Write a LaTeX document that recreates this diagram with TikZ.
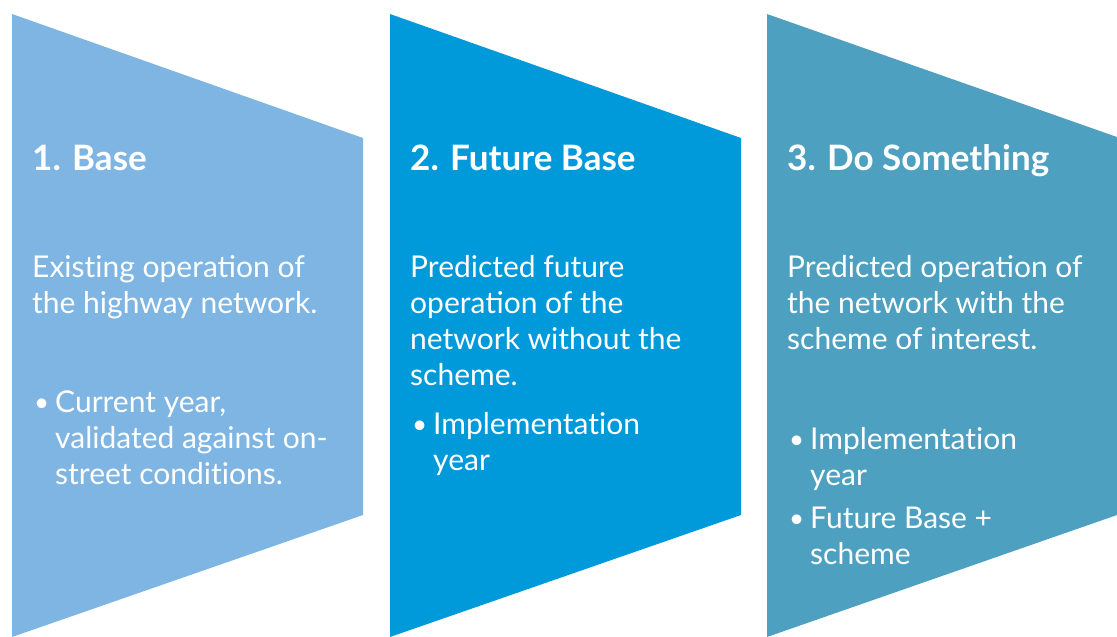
\documentclass[tikz,border=0pt]{standalone}
\usepackage{fontspec}
\setmainfont{Lato}
\definecolor{baseblue}{HTML}{7FB5E2}
\definecolor{futureblue}{HTML}{0099DA}
\definecolor{schemeblue}{HTML}{4EA0C0}
\newcommand{\tisep}{t\kern0pt i}

\begin{document}
\begin{tikzpicture}[
    x=1pt, y=-1pt,
    heading/.style={anchor=base west, inner sep=0pt, text=white,
      font=\fontsize{35}{36}\selectfont\bfseries},
    body/.style={anchor=base west, inner sep=0pt, text=white, align=left,
      font=\fontsize{30}{36}\selectfont},
    dot/.style={anchor=base west, inner sep=0pt, text=white,
      font=\fontsize{26}{36}\selectfont}]

    \useasboundingbox (0,0) rectangle (1117,637);

    % panels
    \fill[baseblue] (12,14) -- (363,138) -- (363,515) -- (12,637) -- cycle;
    \fill[futureblue] (390,14) -- (741,138) -- (741,515) -- (390,637) -- cycle;
    \fill[schemeblue] (767,14) -- (1117,137) -- (1117,515) -- (767,637) -- cycle;

    % base (multi-line nodes sit on their last baseline)
    \node[heading] (basetitle) at (32,170) {1. Base};
    \node[body] (basetext) at (32,313) {Exis\tisep ng operation of\\the highway network.};
    \node[dot] (basedot) at (34,411) {\textbullet};
    \node[body] (basebullet) at (55,484) {Current year,\\validated against on-\\street condi\tisep ons.};

    % future base
    \node[heading] (futuretitle) at (410,170) {2. Future Base};
    \node[body] (futuretext) at (410,385) {Predicted future\\operation of the\\network without the\\scheme.};
    \node[dot] (futuredot) at (412,433) {\textbullet};
    \node[body] (futurebullet) at (433,470) {Implementa\tisep on\\year};

    % do something
    \node[heading] (dotitle) at (787,170) {3. Do Something};
    \node[body] (dotext) at (787,349) {Predicted operation of\\the network with the\\scheme of interest.};
    \node[dot] (dodotone) at (789,448) {\textbullet};
    \node[body] (dobulletone) at (810,485) {Implementa\tisep on\\year};
    \node[dot] (dodottwo) at (789,527) {\textbullet};
    \node[body] (dobullettwo) at (810,564) {Future Base +\\scheme};

\end{tikzpicture}
\end{document}
